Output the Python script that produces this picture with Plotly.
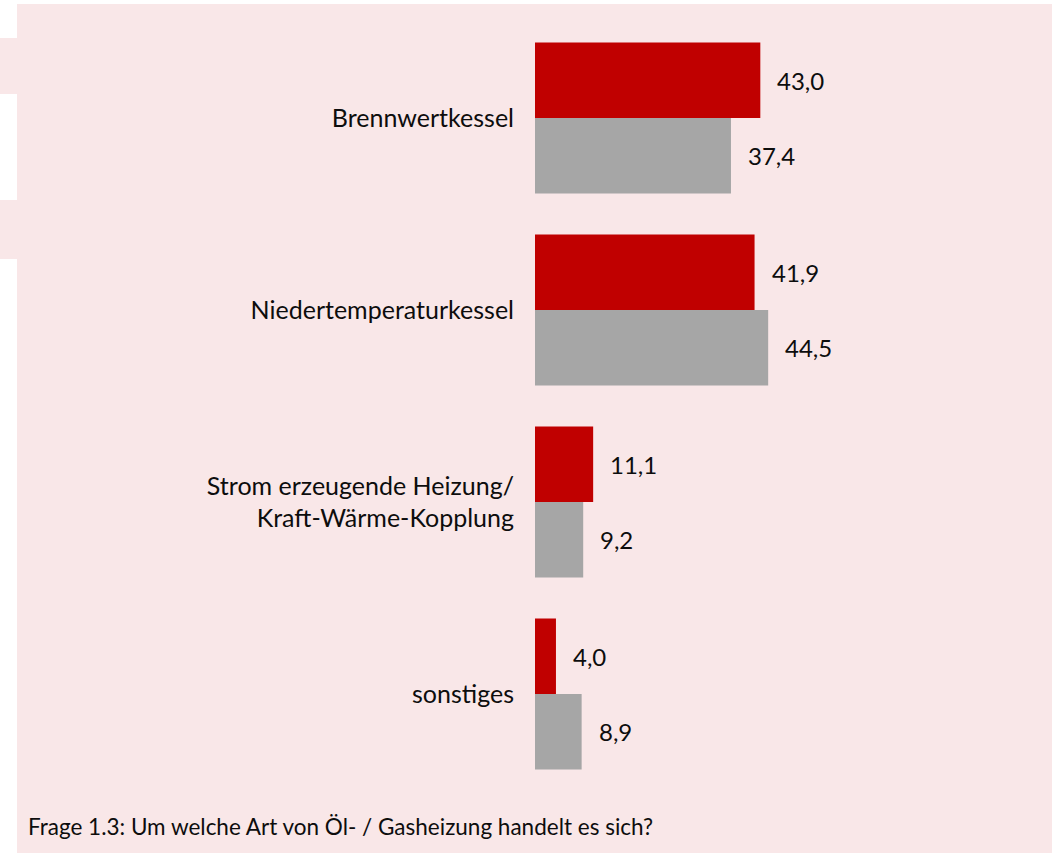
import plotly.graph_objects as go

kategorien = [
    "Brennwertkessel",
    "Niedertemperaturkessel",
    "Strom erzeugende Heizung/<br>Kraft-Wärme-Kopplung",
    "sonstiges",
]
werte_rot = [43.0, 41.9, 11.1, 4.0]
werte_grau = [37.4, 44.5, 9.2, 8.9]

ROT = "#C00000"
GRAU = "#A6A6A6"
ROSA = "#F9E7E8"
SCHRIFT = "Lato, Calibri, sans-serif"

fig = go.Figure()
fig.add_trace(go.Bar(y=kategorien, x=werte_rot, orientation="h",
                     marker=dict(color=ROT, line=dict(width=0)), name="rot"))
fig.add_trace(go.Bar(y=kategorien, x=werte_grau, orientation="h",
                     marker=dict(color=GRAU, line=dict(width=0)), name="grau"))

# Wertebeschriftungen rechts neben den Balken
for kat, wr, wg in zip(kategorien, werte_rot, werte_grau):
    for wert, dy in ((wr, 37.75), (wg, -37.75)):
        fig.add_annotation(x=wert, y=kat, text=f"{wert:.1f}".replace(".", ","),
                           showarrow=False, xanchor="left", yanchor="middle",
                           xshift=15, yshift=dy,
                           font=dict(family=SCHRIFT, size=24, color="#0d0d0d"))

fig.add_annotation(xref="paper", yref="paper", x=-0.9714, y=-0.048,
                   xanchor="left", yanchor="middle", showarrow=False,
                   text="Frage 1.3: Um welche Art von Öl- / Gasheizung handelt es sich?",
                   font=dict(family=SCHRIFT, size=22.5, color="#0d0d0d"))

# rosa Hintergrundfläche (in Pixeln relativ zur Plotecke unten links)
def rosa_flaeche(px0, py0, px1, py1):
    fig.add_shape(type="rect", xref="paper", yref="paper",
                  xsizemode="pixel", ysizemode="pixel", xanchor=0, yanchor=0,
                  x0=px0 - 535, x1=px1 - 535, y0=790 - py1, y1=790 - py0,
                  fillcolor=ROSA, line=dict(width=0), layer="below")

rosa_flaeche(17, 4, 1052, 853)
rosa_flaeche(0, 38, 17, 94)
rosa_flaeche(0, 200, 17, 259)

fig.update_layout(
    width=1061, height=853,
    paper_bgcolor="white",
    plot_bgcolor="rgba(0,0,0,0)",
    margin=dict(l=535, r=2, t=22, b=63),
    barmode="group", bargap=0.2135, bargroupgap=0,
    showlegend=False,
    font=dict(family=SCHRIFT, size=25, color="#0d0d0d"),
    xaxis=dict(range=[0, 100], visible=False, fixedrange=True),
    yaxis=dict(autorange="reversed", showline=False, showgrid=False,
               ticks="", ticklabelstandoff=20,
               tickfont=dict(family=SCHRIFT, size=25, color="#0d0d0d")),
)

# Seitenrand des Browsers entfernen, damit die Grafik bei 0,0 beginnt
fig.write_html("out.html", config={"displayModeBar": False},
               post_script="document.body.style.margin='0';")
